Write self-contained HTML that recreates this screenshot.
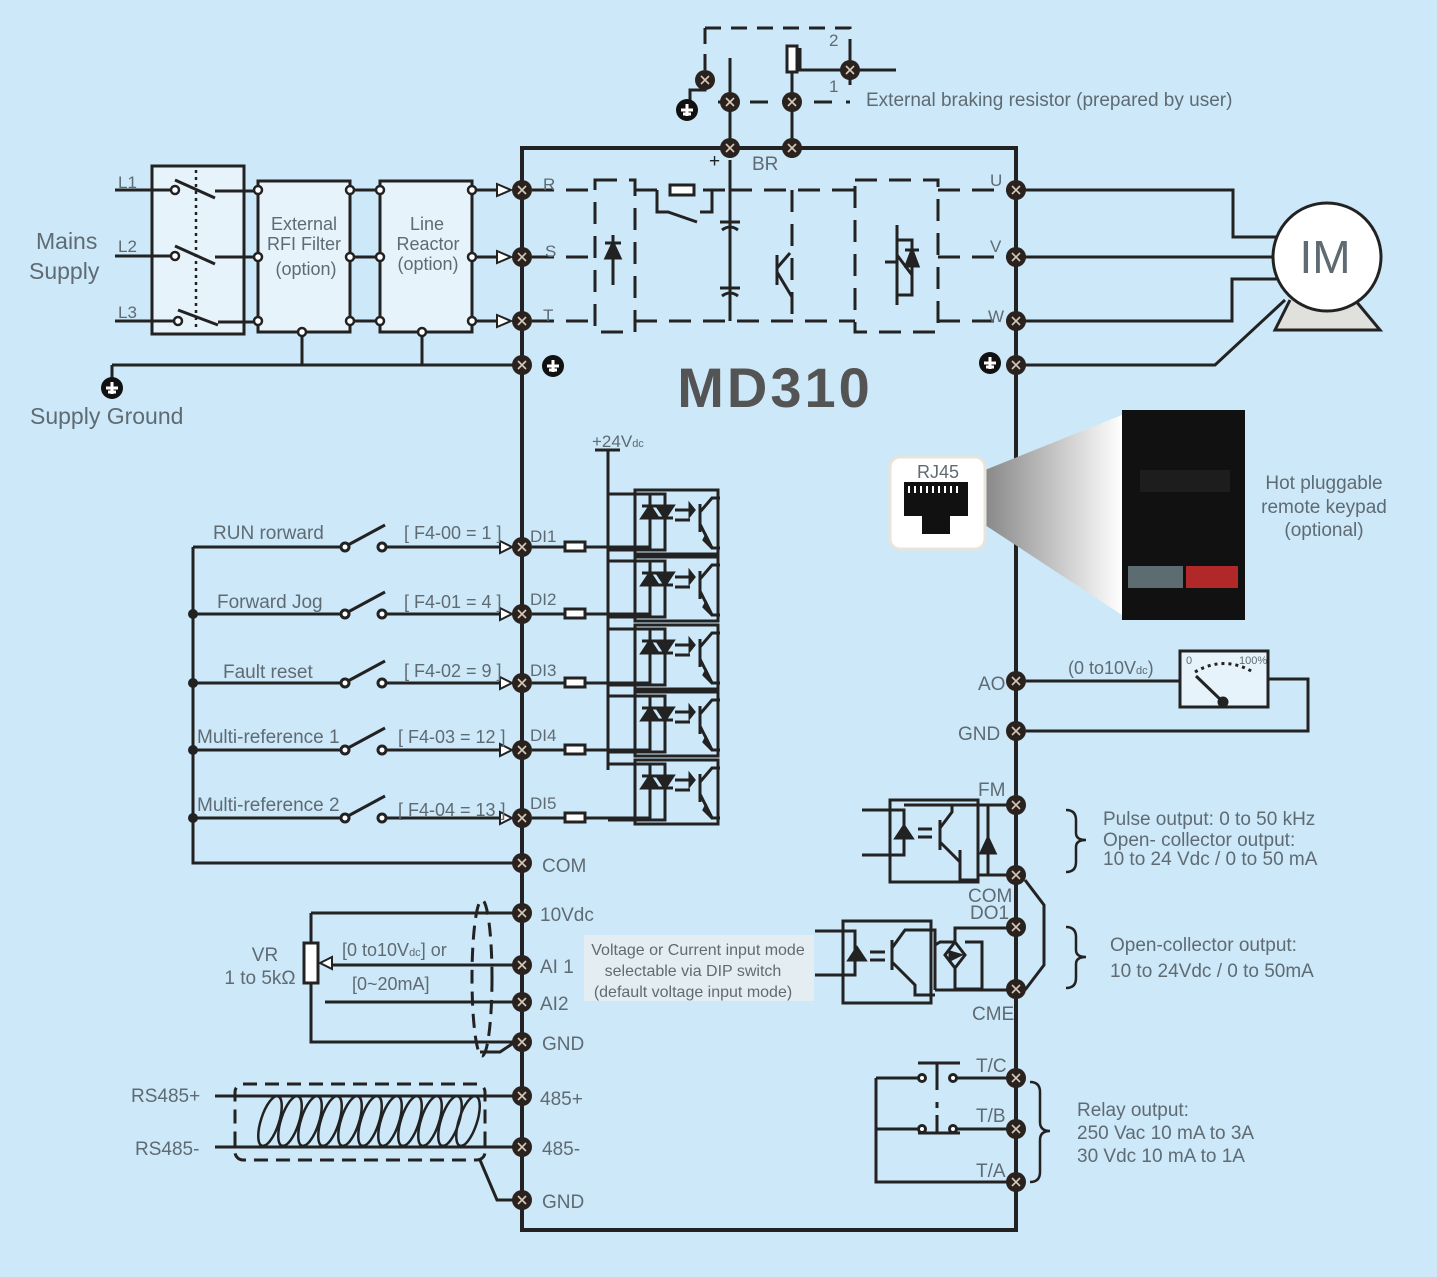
<!DOCTYPE html>
<html><head><meta charset="utf-8"><style>
html,body{margin:0;padding:0;background:#cde8f8;}
svg{display:block;font-family:"Liberation Sans",sans-serif;}
.t{fill:#5f6b73;font-weight:300}
</style></head><body>
<svg width="1437" height="1277" viewBox="0 0 1437 1277" xmlns="http://www.w3.org/2000/svg">
<defs>
<g id="tm"><circle r="10" fill="#2a221e"/><path d="M-4,-4L4,4M4,-4L-4,4" stroke="#d8c8b8" stroke-width="1.6"/></g>
<g id="gnd"><circle r="11" fill="#111"/><path d="M-6,0H6M0,-6V6M-4,4H4" stroke="#fff" stroke-width="3"/></g>
<g id="opto" stroke="#222" stroke-width="3" fill="none">
<rect x="635" y="0" width="83" height="64"/>
<path d="M608,4H650V60H608M650,4H665V60H650"/>
<path d="M642,28L650,16L658,28Z M657,16L665,28L673,16Z" fill="#222"/>
<path d="M642,16H658M657,28H673"/>
<path d="M675,20H690M675,30H690" />
<path d="M690,15L694,20L690,25Z" fill="#222"/>
<path d="M700,14V42M700,22L712,8H720M700,34L712,58H720"/>
<path d="M704,50L712,58L706,46Z" fill="#222"/>
</g>
<linearGradient id="gr" x1="0" x2="1"><stop offset="0" stop-color="#888"/><stop offset="1" stop-color="#fff"/></linearGradient>
</defs>
<rect width="1437" height="1277" fill="#cde8f8"/>
<g stroke="#222" stroke-width="3" fill="none">
<rect x="522" y="148" width="494" height="1082" stroke-width="4"/>
<path d="M705,28V70M705,28H850V60" stroke-dasharray="16,10"/>
<path d="M730,58V148M792,58V148M792,60V72M792,72V102M705,80V90H690V100"/>
<rect x="787" y="46" width="10" height="26" fill="#fff"/>
<path d="M800,48V70H850M850,55V85M850,70H896"/>
<path d="M718,102H850" stroke-dasharray="18,14"/>
<rect x="152" y="166" width="92" height="168" fill="#e6f3fb"/>
<rect x="258" y="181" width="92" height="151" fill="#e6f3fb"/>
<rect x="380" y="181" width="92" height="151" fill="#e6f3fb"/>
<path d="M115,190H175M115,256H175M115,321H175"/>
<path d="M175,180L215,198M175,246L215,264M178,310L218,325"/>
<path d="M215,191H258M215,257H258M218,322H258"/>
<path d="M196,170V330" stroke-dasharray="3,4" stroke-width="2.5"/>
<path d="M350,190H380M350,257H380M350,321H380"/>
<path d="M472,190H500M472,257H500M472,321H500"/>
<path d="M302,332V365M422,332V365M112,365H522M112,365V380"/>
<path d="M497,184L511,190L497,196ZM497,251L511,257L497,263ZM497,315L511,321L497,327Z" fill="#fff" stroke-width="2"/>
<g stroke-dasharray="22,12">
<path d="M532,190H595M532,257H595M532,321H595"/>
<path d="M595,180H635V332H595Z"/>
<path d="M635,190H730M730,190H855M792,190V321M635,321H855"/>
<path d="M855,180H938V332H855Z"/>
<path d="M938,190H1010M938,257H1010M938,321H1010"/>
</g>
<path d="M613,235V285M730,160V321"/>
<path d="M606,258L613,243L620,258Z" fill="#222"/><path d="M605,243H621"/>
<path d="M720,222H740M720,288H740M722,230Q730,224 738,230M722,296Q730,290 738,296"/>
<rect x="670" y="185" width="24" height="10" fill="#fff"/>
<path d="M657,190V212H668L697,222M700,212H712V190"/>
<path d="M777,255V285M777,268L790,253M777,272L792,297"/>
<path d="M897,225V305M897,240H912V295H897M885,262H897M897,255L912,275"/>
<path d="M906,266L912,250L918,266Z" fill="#222"/><path d="M905,250H919"/>
<path d="M1016,190H1233V237H1280M1016,257H1272M1016,321H1232V279H1280M1016,365H1215L1285,300"/>
<path d="M1290,300L1275,330H1380L1355,300" fill="#e0e0dc"/>
<circle cx="1327" cy="257" r="54" fill="#fff"/>
<path d="M595,450H620M608,450V770"/>
</g>
<use href="#opto" transform="translate(0,490)"/>
<use href="#opto" transform="translate(0,557)"/>
<use href="#opto" transform="translate(0,625)"/>
<use href="#opto" transform="translate(0,692)"/>
<use href="#opto" transform="translate(0,760)"/>
<g stroke="#222" stroke-width="3" fill="none">
<path d="M193,547V863H522"/>
<path d="M193,547H340M385,547H505M532,547H650"/>
<path d="M193,614H340M385,614H505M532,614H650"/>
<path d="M193,683H340M385,683H505M532,683H650"/>
<path d="M193,750H340M385,750H505M532,750H650"/>
<path d="M193,818H340M385,818H505M532,818H650"/>
<path d="M348,545L385,525M348,612L385,592M348,681L385,661M348,748L385,728M348,816L385,796"/>
<g fill="#fff"><circle cx="345" cy="547" r="4"/><circle cx="382" cy="547" r="4"/><circle cx="345" cy="614" r="4"/><circle cx="382" cy="614" r="4"/><circle cx="345" cy="683" r="4"/><circle cx="382" cy="683" r="4"/><circle cx="345" cy="750" r="4"/><circle cx="382" cy="750" r="4"/><circle cx="345" cy="818" r="4"/><circle cx="382" cy="818" r="4"/>
<rect x="565" y="542" width="20" height="9"/><rect x="565" y="609" width="20" height="9"/><rect x="565" y="678" width="20" height="9"/><rect x="565" y="745" width="20" height="9"/><rect x="565" y="813" width="20" height="9"/>
<path d="M500,541L512,547L500,553ZM500,608L512,614L500,620ZM500,677L512,683L500,689ZM500,744L512,750L500,756ZM500,812L512,818L500,824Z" stroke-width="2"/></g>
<path d="M311,913H522M311,913V943M311,983V1042H522M325,965H522M325,1002H522"/>
<rect x="304" y="943" width="14" height="40" fill="#fff"/>
<path d="M320,963L332,957V969Z" fill="#fff" stroke-width="2"/>
<ellipse cx="482" cy="978" rx="10" ry="78" stroke-dasharray="14,8"/>
<path d="M480,1052H500L515,1042"/>
<path d="M215,1096H520M215,1147H520"/>
<rect x="235" y="1084" width="250" height="76" rx="8" stroke-dasharray="14,8" fill="none"/>
<g stroke-width="2.5">
<ellipse cx="270" cy="1121" rx="9" ry="26" transform="rotate(18 270 1121)"/>
<ellipse cx="290" cy="1121" rx="9" ry="26" transform="rotate(18 290 1121)"/>
<ellipse cx="310" cy="1121" rx="9" ry="26" transform="rotate(18 310 1121)"/>
<ellipse cx="330" cy="1121" rx="9" ry="26" transform="rotate(18 330 1121)"/>
<ellipse cx="350" cy="1121" rx="9" ry="26" transform="rotate(18 350 1121)"/>
<ellipse cx="370" cy="1121" rx="9" ry="26" transform="rotate(18 370 1121)"/>
<ellipse cx="390" cy="1121" rx="9" ry="26" transform="rotate(18 390 1121)"/>
<ellipse cx="410" cy="1121" rx="9" ry="26" transform="rotate(18 410 1121)"/>
<ellipse cx="430" cy="1121" rx="9" ry="26" transform="rotate(18 430 1121)"/>
<ellipse cx="450" cy="1121" rx="9" ry="26" transform="rotate(18 450 1121)"/>
<ellipse cx="468" cy="1121" rx="9" ry="26" transform="rotate(18 468 1121)"/>
</g>
<path d="M480,1160L497,1200H522"/>
<path d="M1026,681H1180M1268,679H1308V731H1026"/>
<rect x="1180" y="651" width="88" height="56" fill="#e6f3fb"/>
<path d="M1195,672Q1224,655 1253,672" stroke-dasharray="3,4"/>
<path d="M1196,676L1223,702"/>
<circle cx="1223" cy="702" r="4" fill="#222"/>
<rect x="890" y="800" width="88" height="82"/>
<path d="M862,810H904V855H862M904,805H1016M978,875H1016"/>
<path d="M896,838L904,826L912,838Z" fill="#222"/>
<path d="M918,829H932M918,837H932M940,820V850M940,828L952,812V805M940,842L960,862V880H978M960,850V870"/>
<path d="M981,853L988,838L995,853Z" fill="#222"/><path d="M988,805V875"/>
<path d="M1025,880L1044,905V965L1025,990"/>
<rect x="843" y="921" width="88" height="82"/>
<path d="M815,931H855V975H815"/>
<path d="M849,960L857,948L865,960Z" fill="#222"/>
<path d="M870,952H885M870,960H885M892,940V970M892,948L905,930H935V990M892,962L915,985V995H935"/>
<path d="M935,935V945L940,942H955V928H1016M935,990H1016M955,942L965,955L955,968L945,955Z M955,968V989H982V942H965"/>
<path d="M950,952L960,955L950,960Z" fill="#222"/>
<path d="M876,1078V1182H1016M876,1129H920M953,1129H1016M876,1078H920M953,1078H1016"/>
<path d="M918,1063H960M937,1063V1090M937,1102V1108M937,1115V1132M918,1133H960"/>
<g fill="#fff"><circle cx="922" cy="1078" r="3.5"/><circle cx="953" cy="1078" r="3.5"/><circle cx="922" cy="1129" r="3.5"/><circle cx="953" cy="1129" r="3.5"/></g>
<path d="M1066,810Q1076,810 1076,820V833Q1076,840 1086,840Q1076,840 1076,847V862Q1076,872 1066,872" stroke-width="2.5"/>
<path d="M1066,927Q1076,927 1076,937V950Q1076,957 1086,957Q1076,957 1076,964V978Q1076,988 1066,988" stroke-width="2.5"/>
<path d="M1030,1082Q1040,1082 1040,1092V1122Q1040,1131 1050,1131Q1040,1131 1040,1140V1172Q1040,1182 1030,1182" stroke-width="2.5"/>
</g>
<g>
<use href="#tm" x="730" y="148"/><use href="#tm" x="792" y="148"/><use href="#tm" x="730" y="102"/><use href="#tm" x="792" y="102"/>
<use href="#tm" x="705" y="80"/><use href="#tm" x="850" y="70"/>
<use href="#tm" x="522" y="190"/><use href="#tm" x="522" y="257"/><use href="#tm" x="522" y="321"/><use href="#tm" x="522" y="365"/>
<use href="#tm" x="1016" y="190"/><use href="#tm" x="1016" y="257"/><use href="#tm" x="1016" y="321"/><use href="#tm" x="1016" y="365"/>
<use href="#tm" x="522" y="547"/><use href="#tm" x="522" y="614"/><use href="#tm" x="522" y="683"/><use href="#tm" x="522" y="750"/><use href="#tm" x="522" y="818"/><use href="#tm" x="522" y="863"/>
<use href="#tm" x="522" y="913"/><use href="#tm" x="522" y="965"/><use href="#tm" x="522" y="1002"/><use href="#tm" x="522" y="1042"/>
<use href="#tm" x="522" y="1096"/><use href="#tm" x="522" y="1147"/><use href="#tm" x="522" y="1200"/>
<use href="#tm" x="1016" y="681"/><use href="#tm" x="1016" y="731"/><use href="#tm" x="1016" y="805"/><use href="#tm" x="1016" y="875"/><use href="#tm" x="1016" y="927"/><use href="#tm" x="1016" y="989"/>
<use href="#tm" x="1016" y="1078"/><use href="#tm" x="1016" y="1129"/><use href="#tm" x="1016" y="1182"/>
<use href="#gnd" x="687" y="110"/><use href="#gnd" x="112" y="388"/><use href="#gnd" x="553" y="366"/><use href="#gnd" x="990" y="363"/>
<circle cx="193" cy="614" r="5" fill="#222"/><circle cx="193" cy="683" r="5" fill="#222"/><circle cx="193" cy="750" r="5" fill="#222"/><circle cx="193" cy="818" r="5" fill="#222"/>
</g>
<g fill="#fff" stroke="#222" stroke-width="2.5">
<circle cx="175" cy="190" r="4"/><circle cx="175" cy="256" r="4"/><circle cx="178" cy="321" r="4"/>
<circle cx="258" cy="190" r="4"/><circle cx="258" cy="257" r="4"/><circle cx="258" cy="321" r="4"/>
<circle cx="350" cy="190" r="4"/><circle cx="350" cy="257" r="4"/><circle cx="350" cy="321" r="4"/>
<circle cx="380" cy="190" r="4"/><circle cx="380" cy="257" r="4"/><circle cx="380" cy="321" r="4"/>
<circle cx="472" cy="190" r="4"/><circle cx="472" cy="257" r="4"/><circle cx="472" cy="321" r="4"/>
<circle cx="302" cy="332" r="4"/><circle cx="422" cy="332" r="4"/>
</g>
<polygon points="985,470 1122,415 1122,615 985,525" fill="url(#gr)"/>
<rect x="890" y="457" width="95" height="92" rx="10" fill="#fff" stroke="#e8e4dc" stroke-width="3"/>
<path d="M904,482H968V516H950V534H922V516H904Z" fill="#111"/>
<rect x="1122" y="410" width="123" height="210" fill="#111"/>
<rect x="1140" y="470" width="90" height="22" fill="#1d1d1d"/>
<rect x="1128" y="566" width="55" height="22" fill="#5c6c70"/><rect x="1186" y="566" width="52" height="22" fill="#b02828"/>
<g class="t" font-size="19">
<text x="36" y="249" font-size="23">Mains</text><text x="29" y="279" font-size="23">Supply</text>
<text x="30" y="424" font-size="23">Supply Ground</text>
<text x="118" y="188" font-size="17">L1</text><text x="118" y="252" font-size="17">L2</text><text x="118" y="318" font-size="17">L3</text>
<text x="304" y="230" text-anchor="middle" font-size="18">External</text><text x="304" y="250" text-anchor="middle" font-size="18">RFI Filter</text><text x="306" y="275" text-anchor="middle" font-size="18">(option)</text>
<text x="427" y="230" text-anchor="middle" font-size="18">Line</text><text x="428" y="250" text-anchor="middle" font-size="18">Reactor</text><text x="428" y="270" text-anchor="middle" font-size="18">(option)</text>
<text x="543" y="190" font-size="17">R</text><text x="545" y="257" font-size="17">S</text><text x="543" y="321" font-size="17">T</text>
<text x="752" y="170">BR</text><text x="709" y="167" fill="#222">+</text>
<text x="829" y="46" font-size="17">2</text><text x="829" y="92" font-size="17">1</text>
<text x="866" y="106">External braking resistor (prepared by user)</text>
<text x="990" y="186" font-size="17">U</text><text x="990" y="252" font-size="17">V</text><text x="988" y="322" font-size="17">W</text>
<text x="1325" y="273" text-anchor="middle" font-size="46">IM</text>
<text x="775" y="407" text-anchor="middle" font-size="56" font-weight="bold" letter-spacing="3" fill="#545454">MD310</text>
<text x="592" y="447" font-size="17">+24V<tspan font-size="11">dc</tspan></text>
<text x="938" y="478" text-anchor="middle" font-size="18">RJ45</text>
<text x="1324" y="489" text-anchor="middle">Hot pluggable</text><text x="1324" y="513" text-anchor="middle">remote keypad</text><text x="1324" y="536" text-anchor="middle">(optional)</text>
<text x="213" y="539">RUN rorward</text><text x="217" y="608">Forward Jog</text><text x="223" y="678">Fault reset</text>
<text x="197" y="743">Multi-reference 1</text><text x="197" y="811">Multi-reference 2</text>
<text x="404" y="539" font-size="18">[ F4-00 = 1 ]</text><text x="404" y="608" font-size="18">[ F4-01 = 4 ]</text><text x="404" y="677" font-size="18">[ F4-02 = 9 ]</text>
<text x="398" y="743" font-size="18">[ F4-03 = 12 ]</text><text x="398" y="816" font-size="18">[ F4-04 = 13 ]</text>
<text x="530" y="542" font-size="17">DI1</text><text x="530" y="605" font-size="17">DI2</text><text x="530" y="676" font-size="17">DI3</text><text x="530" y="741" font-size="17">DI4</text><text x="530" y="809" font-size="17">DI5</text>
<text x="542" y="872">COM</text><text x="540" y="921">10Vdc</text><text x="540" y="973">AI 1</text><text x="540" y="1010">AI2</text><text x="542" y="1050">GND</text>
<text x="540" y="1105">485+</text><text x="542" y="1155">485-</text><text x="542" y="1208">GND</text>
<text x="265" y="961" text-anchor="middle">VR</text><text x="260" y="984" text-anchor="middle">1 to 5kΩ</text>
<text x="342" y="956" font-size="18">[0 to10V<tspan font-size="11">dc</tspan>] or</text><text x="352" y="990" font-size="18">[0~20mA]</text>
<text x="131" y="1102">RS485+</text><text x="135" y="1155">RS485-</text>
<rect x="584" y="935" width="230" height="66" fill="#e4eef2"/>
<text x="698" y="955" text-anchor="middle" font-size="16">Voltage or Current input mode</text><text x="693" y="976" text-anchor="middle" font-size="16">selectable via DIP switch</text><text x="693" y="997" text-anchor="middle" font-size="16">(default voltage input mode)</text>
<text x="1068" y="674" font-size="18">(0 to10V<tspan font-size="11">dc</tspan>)</text>
<text x="1186" y="664" font-size="11">0</text><text x="1239" y="664" font-size="11">100%</text>
<text x="978" y="690">AO</text><text x="958" y="740">GND</text>
<text x="978" y="796">FM</text><text x="968" y="902">COM</text><text x="970" y="919">DO1</text><text x="972" y="1020">CME</text>
<text x="976" y="1072">T/C</text><text x="976" y="1122">T/B</text><text x="976" y="1177">T/A</text>
<text x="1103" y="825">Pulse output: 0 to 50 kHz</text><text x="1103" y="846">Open- collector output:</text><text x="1103" y="865">10 to 24 Vdc / 0 to 50 mA</text>
<text x="1110" y="951">Open-collector output:</text><text x="1110" y="977">10 to 24Vdc / 0 to 50mA</text>
<text x="1077" y="1116">Relay output:</text><text x="1077" y="1139">250 Vac 10 mA to 3A</text><text x="1077" y="1162">30 Vdc 10 mA to 1A</text>
</g>
<g fill="#fff"><rect x="908" y="486" width="2" height="7"/><rect x="914" y="486" width="2" height="7"/><rect x="920" y="486" width="2" height="7"/><rect x="926" y="486" width="2" height="7"/><rect x="932" y="486" width="2" height="7"/><rect x="938" y="486" width="2" height="7"/><rect x="944" y="486" width="2" height="7"/><rect x="950" y="486" width="2" height="7"/><rect x="956" y="486" width="2" height="7"/></g>
</svg>
</body></html>
